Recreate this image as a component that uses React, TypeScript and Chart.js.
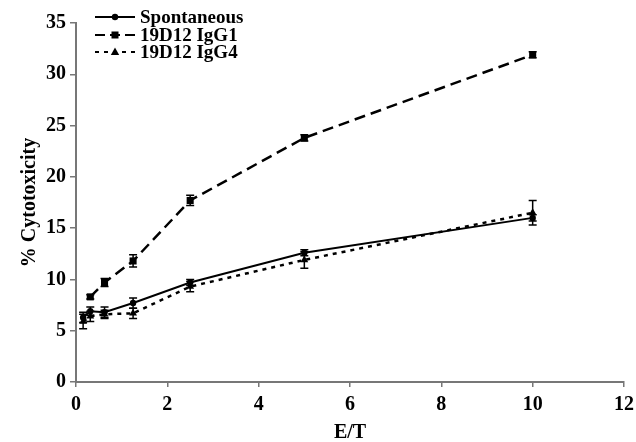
import { useEffect, useRef } from "react";
import { Chart, registerables } from "chart.js";
Chart.register(...registerables);

const etRatios = [0.156, 0.3125, 0.625, 1.25, 2.5, 5, 10];
const igg1Ratios = [0.3125, 0.625, 1.25, 2.5, 5, 10];
const spontaneous = [6.3, 6.9, 6.8, 7.7, 9.7, 12.6, 16.0];
const spontaneousErr = [0.5, 0.4, 0.5, 0.5, 0.3, 0.3, 0.3];
const igg1 = [8.3, 9.7, 11.8, 17.7, 23.8, 31.9];
const igg1Err = [0.2, 0.4, 0.6, 0.5, 0.3, 0.3];
const igg4 = [5.9, 6.4, 6.6, 6.7, 9.3, 11.9, 16.5];
const igg4Err = [0.7, 0.5, 0.4, 0.5, 0.5, 0.8, 1.2];
const seriesNames = ["Spontaneous", "19D12 IgG1", "19D12 IgG4"];
const xTicksMax = 12;
const yTicksMax = 35;

const FONT = "'Liberation Serif', 'Times New Roman', serif";

const errorsByDataset = [spontaneousErr, igg1Err, igg4Err];

const errorBarPlugin = {
  id: "errorBars",
  afterDatasetsDraw(chart: any) {
    const ctx = chart.ctx;
    const yScale = chart.scales.y;
    ctx.save();
    ctx.strokeStyle = "#000";
    ctx.lineWidth = 1.5;
    ctx.setLineDash([]);
    chart.data.datasets.forEach((ds: any, di: number) => {
      const meta = chart.getDatasetMeta(di);
      const errs = errorsByDataset[di];
      meta.data.forEach((pt: any, i: number) => {
        const v = ds.data[i].y;
        const e = errs[i];
        const yTop = yScale.getPixelForValue(v + e);
        const yBot = yScale.getPixelForValue(v - e);
        const x = pt.x;
        ctx.beginPath();
        ctx.moveTo(x, yTop);
        ctx.lineTo(x, yBot);
        ctx.moveTo(x - 4, yTop);
        ctx.lineTo(x + 4, yTop);
        ctx.moveTo(x - 4, yBot);
        ctx.lineTo(x + 4, yBot);
        ctx.stroke();
      });
    });
    ctx.restore();
  },
};

function drawMarker(ctx: CanvasRenderingContext2D, kind: string, x: number, y: number) {
  ctx.beginPath();
  if (kind === "circle") {
    ctx.arc(x, y, 3.2, 0, Math.PI * 2);
    ctx.fill();
  } else if (kind === "rect") {
    ctx.fillRect(x - 3.5, y - 3.5, 7, 7);
  } else {
    ctx.moveTo(x, y - 4.5);
    ctx.lineTo(x + 4.2, y + 3);
    ctx.lineTo(x - 4.2, y + 3);
    ctx.closePath();
    ctx.fill();
  }
}

const legendPlugin = {
  id: "customLegend",
  afterDraw(chart: any) {
    const ctx = chart.ctx as CanvasRenderingContext2D;
    const kinds = ["circle", "rect", "triangle"];
    const dashes = [[], [10, 5], [4, 5]];
    const rows = [17, 35, 52];
    ctx.save();
    for (let i = 0; i < 3; i++) {
      const y = rows[i];
      ctx.strokeStyle = "#000";
      ctx.fillStyle = "#000";
      ctx.lineWidth = 2;
      ctx.setLineDash(dashes[i]);
      ctx.beginPath();
      ctx.moveTo(95, y);
      ctx.lineTo(135, y);
      ctx.stroke();
      ctx.setLineDash([]);
      drawMarker(ctx, kinds[i], 115, y);
      ctx.font = `bold 19px ${FONT}`;
      ctx.textBaseline = "middle";
      ctx.textAlign = "left";
      ctx.fillText(seriesNames[i], 140, y + 1);
    }
    ctx.restore();
  },
};

export default function App() {
  const ref = useRef<HTMLCanvasElement>(null);
  useEffect(() => {
    const tickFont = { family: FONT, size: 20, weight: "bold" as const };
    const chart = new Chart(ref.current!, {
      type: "scatter",
      data: {
        datasets: [
          {
            label: seriesNames[0],
            data: etRatios.map((x, i) => ({ x, y: spontaneous[i] })),
            showLine: true,
            borderColor: "#000",
            backgroundColor: "#000",
            borderWidth: 2,
            pointStyle: "circle",
            pointRadius: 3.2,
            pointBorderWidth: 0,
          },
          {
            label: seriesNames[1],
            data: igg1Ratios.map((x, i) => ({ x, y: igg1[i] })),
            showLine: true,
            borderColor: "#000",
            backgroundColor: "#000",
            borderWidth: 2.5,
            borderDash: [11, 6],
            pointStyle: "rect",
            pointRadius: 5,
            pointBorderWidth: 0,
          },
          {
            label: seriesNames[2],
            data: etRatios.map((x, i) => ({ x, y: igg4[i] })),
            showLine: true,
            borderColor: "#000",
            backgroundColor: "#000",
            borderWidth: 2.5,
            borderDash: [4, 5],
            pointStyle: "triangle",
            pointRadius: 4.5,
            pointBorderWidth: 0,
          },
        ],
      },
      options: {
        responsive: false,
        animation: false,
        layout: { padding: { left: 0, right: 12, top: 23, bottom: 0 } },
        plugins: { legend: { display: false }, tooltip: { enabled: false } },
        scales: {
          x: {
            type: "linear",
            min: 0,
            max: xTicksMax,
            ticks: { stepSize: 2, color: "#000", font: tickFont, padding: 6 },
            grid: { drawOnChartArea: false, drawTicks: true, tickLength: 5, color: "#777", lineWidth: 1.5 },
            border: { color: "#777", width: 2 },
            title: {
              display: true,
              text: "E/T",
              color: "#000",
              font: { family: FONT, size: 20, weight: "bold" },
              padding: { top: 4, bottom: -3 },
            },
            afterFit: (s: any) => {
              s.height = 60;
              s.paddingRight = 0;
              s.paddingLeft = 0;
            },
          },
          y: {
            type: "linear",
            min: 0,
            max: yTicksMax,
            ticks: { stepSize: 5, color: "#000", font: tickFont, padding: 4 },
            grid: { drawOnChartArea: false, drawTicks: true, tickLength: 6, color: "#777", lineWidth: 1.5 },
            border: { color: "#777", width: 2 },
            title: {
              display: true,
              text: "% Cytotoxicity",
              color: "#000",
              font: { family: FONT, size: 20, weight: "bold" },
              padding: { top: 18, bottom: 0 },
            },
            afterFit: (s: any) => {
              s.width = 76;
              s.paddingTop = 0;
              s.paddingBottom = 0;
            },
          },
        },
      },
      plugins: [errorBarPlugin, legendPlugin],
    });
    return () => chart.destroy();
  }, []);
  return (
    <div style={{ position: "fixed", left: 0, top: 0, width: 636, height: 442, background: "#fff" }}>
      <canvas ref={ref} width={636} height={442} style={{ display: "block" }} />
    </div>
  );
}
